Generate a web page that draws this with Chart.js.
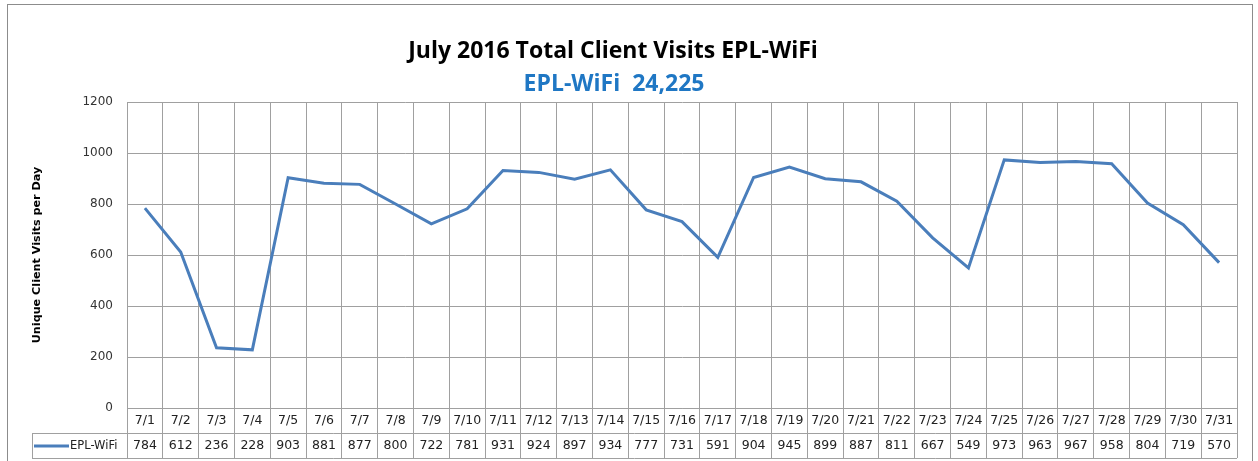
<!DOCTYPE html>
<html>
<head>
<meta charset="utf-8">
<script src="https://cdn.jsdelivr.net/npm/chart.js@4/dist/chart.umd.min.js"></script>
<style>
  html, body { margin: 0; padding: 0; background: #fff; }
  #wrap { width: 1258px; height: 461px; position: relative; }
</style>
</head>
<body>
<div id="wrap"><canvas id="c" width="1258" height="461"></canvas></div>
<script>
const titleText = 'July 2016 Total Client Visits EPL-WiFi';
const subtitleText = 'EPL-WiFi  24,225';
const seriesName = 'EPL-WiFi';
const yAxisTitle = 'Unique Client Visits per Day';
const dates = ['7/1','7/2','7/3','7/4','7/5','7/6','7/7','7/8','7/9','7/10','7/11','7/12','7/13','7/14','7/15','7/16','7/17','7/18','7/19','7/20','7/21','7/22','7/23','7/24','7/25','7/26','7/27','7/28','7/29','7/30','7/31'];
const visits = [784,612,236,228,903,881,877,800,722,781,931,924,897,934,777,731,591,904,945,899,887,811,667,549,973,963,967,958,804,719,570];
const yTicks = [0,200,400,600,800,1000,1200];
const yTickLabels = ['0','200','400','600','800','1000','1200'];

const GRID = '#a0a0a0';
const LINE = '#4a7ebb';
const ROW = 25;

const labels = dates.map((d, i) => [d, String(visits[i])]);

const decor = {
  id: 'decor',
  beforeDraw(chart) {
    const ctx = chart.ctx;
    ctx.save();
    ctx.fillStyle = '#fff';
    ctx.fillRect(0, 0, chart.width, chart.height);
    ctx.strokeStyle = '#8c8c8c';
    ctx.lineWidth = 1;
    ctx.strokeRect(7.5, 4.5, 1245, 520);
    ctx.restore();
  },
  afterDraw(chart) {
    const ctx = chart.ctx;
    const a = chart.chartArea;
    const y1 = Math.round(a.bottom + ROW), y2 = Math.round(a.bottom + 2 * ROW);
    const x0 = 32;
    ctx.save();
    ctx.strokeStyle = GRID;
    ctx.lineWidth = 1;
    ctx.beginPath();
    ctx.moveTo(x0, y1 + 0.5); ctx.lineTo(a.right, y1 + 0.5);
    ctx.moveTo(x0, y2 + 0.5); ctx.lineTo(a.right, y2 + 0.5);
    ctx.moveTo(x0 + 0.5, y1); ctx.lineTo(x0 + 0.5, y2 + 1);
    ctx.stroke();
    // legend key
    const ym = (y1 + y2) / 2 + 0.5;
    ctx.strokeStyle = LINE;
    ctx.lineWidth = 3;
    ctx.beginPath();
    ctx.moveTo(34, ym); ctx.lineTo(69, ym);
    ctx.stroke();
    ctx.fillStyle = '#222';
    ctx.font = '11.5px "DejaVu Sans"';
    ctx.textAlign = 'left';
    ctx.textBaseline = 'middle';
    ctx.fillText(seriesName, 70, ym);
    // titles
    ctx.textAlign = 'center';
    ctx.fillStyle = '#000';
    ctx.font = 'bold 23px "Open Sans"';
    ctx.fillText(titleText, 613, 51);
    ctx.fillStyle = '#1f77c4';
    ctx.font = 'bold 23px "Open Sans"';
    ctx.fillText(subtitleText, 614, 84);
    ctx.restore();
  }
};

new Chart(document.getElementById('c'), {
  type: 'line',
  data: {
    labels: labels,
    datasets: [{
      label: seriesName,
      data: visits,
      borderColor: LINE,
      borderWidth: 3,
      pointRadius: 0,
      pointHoverRadius: 0,
      tension: 0,
      fill: false
    }]
  },
  options: {
    responsive: false,
    animation: false,
    devicePixelRatio: 1,
    layout: { padding: { left: 7, right: 21, top: 102, bottom: 0 } },
    plugins: {
      legend: { display: false },
      tooltip: { enabled: false },
      title: { display: false }
    },
    scales: {
      x: {
        type: 'category',
        offset: true,
        grid: {
          offset: true,
          color: GRID,
          lineWidth: 1,
          drawTicks: true,
          tickLength: 2 * ROW,
          tickColor: GRID
        },
        border: { display: true, color: GRID },
        ticks: {
          autoSkip: false,
          maxRotation: 0,
          minRotation: 0,
          padding: -2 * ROW + 0.5,
          color: '#222',
          font: { family: 'DejaVu Sans', size: 12.5, lineHeight: ROW + 'px' }
        },
        afterFit(scale) { scale.height = 53; }
      },
      y: {
        min: 0,
        max: 1200,
        afterBuildTicks(scale) { scale.ticks = yTicks.map(v => ({ value: v })); },
        grid: { color: GRID, lineWidth: 1, drawTicks: false },
        border: { display: true, color: GRID },
        ticks: {
          padding: 14,
          color: '#333',
          font: { family: 'DejaVu Sans', size: 12 },
          callback: (v) => yTickLabels[yTicks.indexOf(v)]
        },
        title: {
          display: true,
          text: yAxisTitle,
          color: '#000',
          font: { family: 'DejaVu Sans', size: 11.2, weight: 'bold' },
          padding: { top: 23, bottom: 0 }
        },
        afterFit(scale) { scale.width = 120; }
      }
    }
  },
  plugins: [decor]
});
</script>
</body>
</html>
